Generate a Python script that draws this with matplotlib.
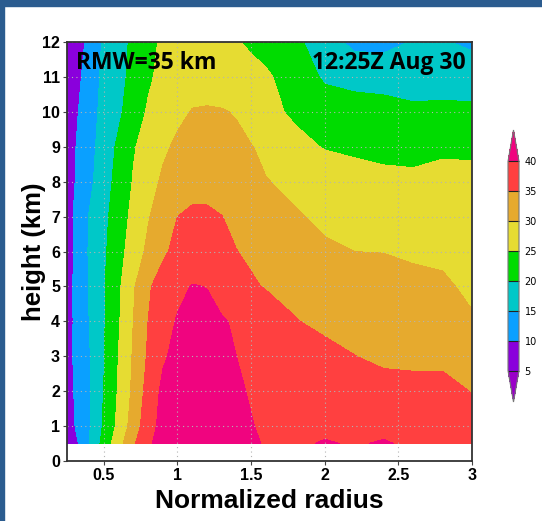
import numpy as np
import matplotlib
matplotlib.use('Agg')
import matplotlib.pyplot as plt
from matplotlib.colors import ListedColormap, BoundaryNorm
from matplotlib.patches import Rectangle

# radial / vertical grid of the composite (r normalised by RMW, height in km)
radius = [0.25, 0.3, 0.4, 0.5, 0.6, 0.7, 0.8, 0.9, 1.0, 1.1, 1.2, 1.3, 1.4, 1.5,
          1.6, 1.8, 2.0, 2.2, 2.4, 2.6, 2.8, 3.0]
height = [0.5, 1, 2, 3, 4, 5, 6, 7, 8, 9, 10, 11, 12]

# tangential wind (m/s), one list per height level
vt_z00 = [6, 8.2, 15, 21.8, 28.1, 34.3, 39.2, 42, 44, 45, 45, 44, 43, 41, 39.5, 39, 40.5, 39.5, 40.5, 39, 38, 37]
vt_z01 = [7, 9.8, 14.5, 20.6, 26.3, 32.2, 38, 41.5, 43.5, 44.5, 44.5, 43.5, 42, 40.3, 39, 38.5, 38.5, 38.5, 38.5, 38, 37.5, 36]
vt_z02 = [8, 10.2, 14.3, 20.2, 25.5, 31, 36.8, 41, 42.5, 43.5, 43, 42, 40.9, 39.5, 38.8, 38.2, 37.8, 37.5, 37.2, 37, 37, 34.8]
vt_z03 = [8.2, 10.5, 14.6, 19.6, 25.1, 30.5, 35.6, 39.4, 41.3, 42.3, 42, 41.2, 40, 39, 38.3, 37.3, 36.3, 35.1, 33.8, 33.5, 33.5, 32.4]
vt_z04 = [8.2, 10.4, 15, 19.6, 24.5, 30, 35, 38, 40.4, 41.5, 41.3, 40.4, 39.5, 38.5, 37.7, 35.2, 34, 33, 32.5, 32.2, 32, 30.5]
vt_z05 = [8.2, 10.5, 15.2, 19.6, 24.2, 29.4, 34.4, 37, 38.8, 40.2, 39.9, 38.2, 36.8, 35.6, 34.7, 33.8, 33, 32.5, 32, 31.3, 30.8, 29]
vt_z06 = [8, 10.3, 15.4, 19.2, 23.3, 27.3, 31, 34.2, 36.3, 37.3, 37.2, 36.3, 35.1, 34.2, 33.4, 32.2, 30.6, 30, 29.9, 29.3, 29, 27]
vt_z07 = [8, 10.4, 15.2, 18.8, 22.5, 26.3, 29.6, 32.5, 35, 35.9, 35.9, 35.1, 33.8, 32.5, 31.8, 30.4, 29.2, 28.5, 28.2, 28, 27.5, 26.2]
vt_z08 = [7.5, 9.8, 13.8, 17.9, 21.7, 25.3, 28.1, 30.7, 32.3, 33.2, 33.2, 32.5, 31.6, 30.8, 30.2, 29, 28, 27.2, 26.3, 26, 27, 26.5]
vt_z09 = [7, 9.6, 13.3, 17.2, 20.9, 24.6, 26.8, 29.2, 30.8, 31.5, 31.6, 31.2, 30.7, 30.2, 29, 26.5, 24.7, 24, 23.6, 23.5, 23.9, 24]
vt_z10 = [6.8, 8.9, 13, 16.4, 19.1, 22.6, 25.5, 27.3, 29, 30.2, 30.3, 30.2, 29.8, 27.8, 26.5, 24.1, 22.3, 21.6, 21.6, 20.8, 20.9, 20.8]
vt_z11 = [6, 7.9, 12.3, 16.1, 18.6, 21.3, 24.3, 26.2, 27.5, 28.3, 28.6, 28.3, 27.7, 26.6, 25.8, 22.5, 19.4, 18.8, 18.3, 18, 18.2, 18]
vt_z12 = [5.5, 7, 11.3, 15.7, 18.3, 20.9, 23.5, 25.8, 26.6, 27, 27, 26.5, 25.4, 24.2, 23, 21, 17.5, 13.6, 13.5, 15.3, 15.4, 14]

levels = [5, 10, 15, 20, 25, 30, 35, 40]
band_colors = ['#8a00dc', '#0aa0ff', '#00c8c8', '#00dc00', '#e6dc32', '#e6aa2e', '#ff4040']
under_color = '#9a00c8'
over_color = '#f0047f'

vt = np.vstack([vt_z00, vt_z01, vt_z02, vt_z03, vt_z04, vt_z05, vt_z06,
                vt_z07, vt_z08, vt_z09, vt_z10, vt_z11, vt_z12])
R, Z = np.meshgrid(radius, height)

cmap = ListedColormap(band_colors)
cmap.set_under(under_color)
cmap.set_over(over_color)
norm = BoundaryNorm(levels, cmap.N)

fig = plt.figure(figsize=(5.42, 5.21), dpi=100)
# slide frame strips
fig.patches.append(Rectangle((0, 1 - 6 / 521), 1, 6 / 521, transform=fig.transFigure,
                             color='#2b5c8f', zorder=0))
fig.patches.append(Rectangle((0, 0), 4 / 542, 1, transform=fig.transFigure,
                             color='#2b5c8f', zorder=0))

ax = fig.add_axes([67 / 542, 1 - 461 / 521, 405 / 542, 419 / 521])
cf = ax.contourf(R, Z, vt, levels=levels, cmap=cmap, norm=norm, extend='both')

ax.set_xlim(0.25, 3.0)
ax.set_ylim(0, 12)
ax.set_xticks([0.5, 1, 1.5, 2, 2.5, 3])
ax.set_xticklabels(['0.5', '1', '1.5', '2', '2.5', '3'])
ax.set_yticks(range(0, 13))
ax.grid(True, color='#b4b4b4', linestyle=(0, (1, 3)), linewidth=0.8)
ax.tick_params(direction='out', length=3, width=0.8, color='#444444', pad=2)
for lab in ax.get_xticklabels() + ax.get_yticklabels():
    lab.set_fontfamily('Liberation Sans')
    lab.set_fontweight('bold')
    lab.set_fontsize(11.5)
for sp in ax.spines.values():
    sp.set_linewidth(1.3)
    sp.set_color('#333333')

ax.set_xlabel('Normalized radius', fontfamily='Liberation Sans', fontweight='bold',
              fontsize=19, labelpad=4)
ax.set_ylabel('height (km)', fontfamily='Liberation Sans', fontweight='bold',
              fontsize=18.5, labelpad=-3)

ax.text(0.022, 0.978, 'RMW=35 km', transform=ax.transAxes, ha='left', va='top',
        fontfamily='Open Sans', fontweight='bold', fontsize=16.5)
ax.text(0.985, 0.978, '12:25Z Aug 30', transform=ax.transAxes, ha='right', va='top',
        fontfamily='Open Sans', fontweight='bold', fontsize=16.5)

# colorbar axes includes the pointed extensions
cax = fig.add_axes([508 / 542, 1 - 402 / 521, 11 / 542, 272 / 521])
cb = fig.colorbar(cf, cax=cax, extendfrac=0.15, drawedges=True, ticks=levels)
cb.outline.set_edgecolor('#777777')
cb.outline.set_linewidth(0.8)
cb.dividers.set_color('#222222')
cb.dividers.set_linewidth(0.8)
cax.tick_params(length=0, pad=4, labelsize=7)

fig.savefig('out.png', dpi=100)
